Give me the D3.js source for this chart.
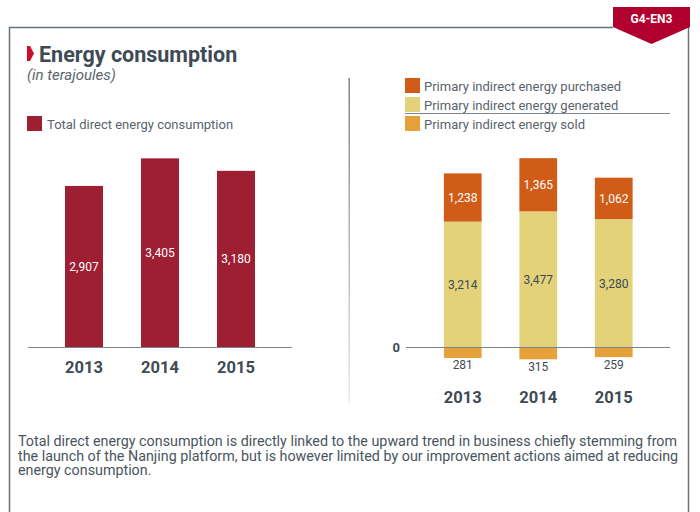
<!DOCTYPE html>
<html>
<head>
<meta charset="utf-8">
<script src="https://cdnjs.cloudflare.com/ajax/libs/d3/7.8.5/d3.min.js"></script>
<style>
  html, body { margin: 0; padding: 0; background: #fff; }
  svg text { font-family: "Roboto", "Liberation Sans", sans-serif; }
</style>
</head>
<body>
<div id="chart"></div>
<script>
// data
var years = ['2013', '2014', '2015'];
var directTotal = [2907, 3405, 3180];
var indirectPurchased = [1238, 1365, 1062];
var indirectGenerated = [3214, 3477, 3280];
var indirectSold = [281, 315, 259];
var legendRight = ['Primary indirect energy purchased', 'Primary indirect energy generated', 'Primary indirect energy sold'];
var footnote = [
  'Total direct energy consumption is directly linked to the upward trend in business chiefly stemming from',
  'the launch of the Nanjing platform, but is however limited by our improvement actions aimed at reducing',
  'energy consumption.'
];

var W = 700, H = 512;
var dark = '#3e4a55', frame = '#66717a';
var colDirect = '#9e1e32', colPurch = '#d05c17', colGen = '#e3d279', colSold = '#e7a13b';

var svg = d3.select('#chart').append('svg').attr('width', W).attr('height', H);

var defs = svg.append('defs');
var grad = defs.append('linearGradient').attr('id', 'fade').attr('x1', 0).attr('y1', 0).attr('x2', 0).attr('y2', 1);
grad.append('stop').attr('offset', '0%').attr('stop-color', '#7a848c');
grad.append('stop').attr('offset', '100%').attr('stop-color', '#e8eaec');

/* frame + tag */
svg.append('path')
  .attr('d', 'M9.5,512 V27.5 H613 M688.5,27 V512')
  .attr('fill', 'none').attr('stroke', frame).attr('stroke-width', 1.5);
svg.append('path')
  .attr('d', 'M613,7 H690 V27 L651.5,44 L613,27 Z')
  .attr('fill', '#b1002e');
svg.append('text').attr('x', 651.5).attr('y', 22.5).attr('text-anchor', 'middle')
  .attr('fill', '#fff').style('font-weight', 'bold').style('font-size', '12px').text('G4-EN3');

/* title */
svg.append('path').attr('d', 'M27,46 H30 L34,53.5 L30,61 H27 Z').attr('fill', '#c8102e');
svg.append('text').attr('x', 39).attr('y', 62).attr('fill', dark)
  .style('font-weight', 'bold').style('font-size', '21.5px').text('Energy consumption');
svg.append('text').attr('x', 27).attr('y', 80).attr('fill', '#5b656e')
  .style('font-style', 'italic').style('font-size', '15px').text('(in terajoules)');

/* divider */
svg.append('rect').attr('x', 348.5).attr('y', 78).attr('width', 1.5).attr('height', 325).attr('fill', 'url(#fade)');

/* ---------- left chart ---------- */
var xL = d3.scaleBand().domain(years).range([46, 274]).paddingInner(0.5).paddingOuter(0.25);
var yL = d3.scaleLinear().domain([0, 4000]).range([347, 125.4]);

svg.append('rect').attr('x', 27).attr('y', 116).attr('width', 15).attr('height', 15).attr('fill', colDirect);
svg.append('text').attr('x', 47).attr('y', 128.5).attr('fill', '#59636c').style('font-size', '13px')
  .text('Total direct energy consumption');

var gL = svg.append('g');
gL.selectAll('rect.bar').data(directTotal).enter().append('rect').attr('class', 'bar')
  .attr('x', function(d, i){ return xL(years[i]); })
  .attr('y', function(d){ return yL(d); })
  .attr('width', xL.bandwidth())
  .attr('height', function(d){ return yL(0) - yL(d); })
  .attr('fill', colDirect);
gL.selectAll('text.val').data(directTotal).enter().append('text').attr('class', 'val')
  .attr('x', function(d, i){ return xL(years[i]) + xL.bandwidth() / 2; })
  .attr('y', function(d){ return (yL(d) + yL(0)) / 2 + 4.5; })
  .attr('text-anchor', 'middle').attr('fill', '#fff').style('font-size', '12px')
  .text(function(d){ return d3.format(',')(d); });

svg.append('line').attr('x1', 28).attr('x2', 292).attr('y1', 347.5).attr('y2', 347.5)
  .attr('stroke', '#7b858d').attr('stroke-width', 1.2);

var axL = svg.append('g').attr('transform', 'translate(0,' + yL(0) + ')')
  .call(d3.axisBottom(xL).tickSize(0).tickPadding(14));
axL.select('.domain').remove();
axL.selectAll('text').attr('fill', dark).style('font-size', '16.5px').style('font-weight', 'bold')
  .style('font-family', '"Roboto", "Liberation Sans", sans-serif');

/* ---------- right chart ---------- */
var xR = d3.scaleBand().domain(years).range([425, 651.5]).paddingInner(0.5).paddingOuter(0.25);
var yR = d3.scaleLinear().domain([0, 5000]).range([347, 152]);

var legColors = [colPurch, colGen, colSold];
var leg = svg.append('g').selectAll('g').data(legendRight).enter().append('g')
  .attr('transform', function(d, i){ return 'translate(405,' + (78 + i * 19) + ')'; });
leg.append('rect').attr('width', 15).attr('height', 15).attr('fill', function(d, i){ return legColors[i]; });
leg.append('text').attr('x', 19).attr('y', 12.5).attr('fill', '#59636c').style('font-size', '13px')
  .text(function(d){ return d; });
svg.append('line').attr('x1', 405).attr('x2', 670).attr('y1', 113.5).attr('y2', 113.5)
  .attr('stroke', '#7b858d').attr('stroke-width', 1.2);

var stacks = years.map(function(y, i){
  return { year: y, gen: indirectGenerated[i], purch: indirectPurchased[i], sold: indirectSold[i] };
});
var gR = svg.append('g');
var col = gR.selectAll('g').data(stacks).enter().append('g');
// generated
col.append('rect')
  .attr('x', function(d){ return xR(d.year); }).attr('width', xR.bandwidth())
  .attr('y', function(d){ return yR(d.gen); })
  .attr('height', function(d){ return yR(0) - yR(d.gen); })
  .attr('fill', colGen);
// purchased
col.append('rect')
  .attr('x', function(d){ return xR(d.year); }).attr('width', xR.bandwidth())
  .attr('y', function(d){ return yR(d.gen + d.purch); })
  .attr('height', function(d){ return yR(d.gen) - yR(d.gen + d.purch); })
  .attr('fill', colPurch);
// sold (below zero)
col.append('rect')
  .attr('x', function(d){ return xR(d.year); }).attr('width', xR.bandwidth())
  .attr('y', yR(0))
  .attr('height', function(d){ return yR(-d.sold) - yR(0); })
  .attr('fill', colSold);

var fmt = d3.format(',');
col.append('text')
  .attr('x', function(d){ return xR(d.year) + xR.bandwidth() / 2; })
  .attr('y', function(d){ return (yR(d.gen) + yR(d.gen + d.purch)) / 2 + 4.5; })
  .attr('text-anchor', 'middle').attr('fill', '#fff').style('font-size', '12px')
  .text(function(d){ return fmt(d.purch); });
col.append('text')
  .attr('x', function(d){ return xR(d.year) + xR.bandwidth() / 2; })
  .attr('y', function(d){ return (yR(0) + yR(d.gen)) / 2 + 4.5; })
  .attr('text-anchor', 'middle').attr('fill', dark).style('font-size', '12px')
  .text(function(d){ return fmt(d.gen); });
col.append('text')
  .attr('x', function(d){ return xR(d.year) + xR.bandwidth() / 2; })
  .attr('y', function(d){ return yR(-d.sold) + 11.5; })
  .attr('text-anchor', 'middle').attr('fill', dark).style('font-size', '12px')
  .text(function(d){ return fmt(d.sold); });

svg.append('line').attr('x1', 406).attr('x2', 670).attr('y1', 347.5).attr('y2', 347.5)
  .attr('stroke', '#7b858d').attr('stroke-width', 1.2);

var ayR = svg.append('g').attr('transform', 'translate(406,0)')
  .call(d3.axisLeft(yR).tickValues([0]).tickSize(0).tickPadding(6));
ayR.select('.domain').remove();
ayR.selectAll('text').attr('fill', dark).style('font-size', '13px').style('font-weight', 'bold')
  .style('font-family', '"Roboto", "Liberation Sans", sans-serif');

var axR = svg.append('g').attr('transform', 'translate(0,' + yR(0) + ')')
  .call(d3.axisBottom(xR).tickSize(0).tickPadding(44));
axR.select('.domain').remove();
axR.selectAll('text').attr('fill', dark).style('font-size', '16.5px').style('font-weight', 'bold')
  .style('font-family', '"Roboto", "Liberation Sans", sans-serif');

/* footnote */
svg.append('g').selectAll('text').data(footnote).enter().append('text')
  .attr('x', 18).attr('y', function(d, i){ return 446 + i * 14.5; })
  .attr('fill', '#4a545d').style('font-size', '14.3px')
  .text(function(d){ return d; });
</script>
</body>
</html>
